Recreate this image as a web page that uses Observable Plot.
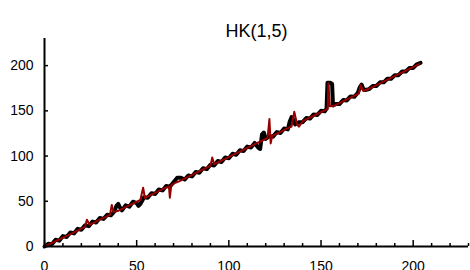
<!DOCTYPE html>
<html><head><meta charset="utf-8">
<script src="https://cdn.jsdelivr.net/npm/d3@7"></script>
<script src="https://cdn.jsdelivr.net/npm/@observablehq/plot@0.6"></script>
<style>html,body{margin:0;padding:0;background:#fff;}</style>
</head><body><div id="chart"></div>
<script>
const title = "HK(1,5)";
const xTicks = [0, 50, 100, 150, 200];
const xMinorTicks = [10, 20, 30, 40, 60, 70, 80, 90, 110, 120, 130, 140, 160, 170, 180, 190, 210, 220, 230];
const yTicks = [0, 50, 100, 150, 200];

const blackX = [0,2,4,6,8,10,12,14,16,18,20,22,24,26,28,30,32,34,36,38,39,40,41,42,44,46,48,50,51,52,54,56,58,60,62,64,66,68,70,72,74,76,78,80,82,84,86,88,90,92,94,96,98,100,102,104,106,108,110,112,114,116,117,118,119,120,122,124,126,128,130,132,133,134,135,136,138,140,142,144,146,148,150,152,153,153.5,155,156,156.5,158,160,162,164,166,168,170,171,172,173,174,176,178,180,182,184,186,188,190,192,194,196,198,200,202,204];
const blackY = [0,3,2.5,7.5,6.5,11.5,10.5,15.5,14.5,19.5,18.5,23.5,22.5,27.5,26.5,31.5,30.5,35,34.5,39,45,47,43,40,45.5,44,49.5,48,45,47,54.5,54,59,58,63,62,67,66,71,76,76,74,78.5,77.5,82.5,81.5,86.5,85.5,90.5,89.5,94.5,93.5,98.5,97.5,102.5,101.5,106.5,105.5,110.5,109.5,114.5,109,108,124,126,119,122,121.5,126.5,125.5,130.5,129.5,138,143,140,135,137.5,137.5,142,141.5,146,145.5,150,149.5,152.5,181,181,180,156,157.5,157.5,162,161.5,166,165.5,170,176,179,174,173,174,177.5,177.5,181.5,181.5,185.5,185.5,189.5,189.5,193.5,193.5,197.5,197.5,201.5,203];

const redX = [0,5,10,15,20,22,23,24.5,27,30,33,35.5,36.5,37.5,40,43,46,49,52,53.5,54.5,57,60,63,66,67.5,68,68.8,71,73,76,79,82,85,88,90,91,92,95,98,101,104,107,110,113,116,119,121,122,122.7,123.5,126,129,132,134,135.5,137,138,140,143,146,149,152,153.6,154,154.8,157,160,163,166,169,170.5,171.5,173,176,179,182,185,188,191,194,197,200,203.5];
const redY = [0,4.8,9.9,14.6,19.8,21.7,29.5,24,26.5,29.7,32.4,35,46,38,39.5,42.5,45.5,48.5,51.4,65,53.5,56.5,59.4,62.3,65.4,66.5,54,67.8,70.5,72,75,78,81.2,84.2,87.2,89,98.5,91,94,97,100,103,106,109,112,115,118,120,141,114,122,124.8,127.8,130.8,132.7,149,135,132.5,138.5,141.7,144.6,147.6,150.6,152,180.5,155,155.6,158.6,161.6,164.6,167.6,169,178.5,172,174.4,177.4,180.4,183.4,186.4,189.4,192.4,195.4,198.4,202];

const black = blackX.map((x, i) => ({x, y: blackY[i]}));
const red = redX.map((x, i) => ({x, y: redY[i]}));

const chart = Plot.plot({
  width: 470,
  height: 270,
  marginLeft: 44,
  marginRight: 2,
  marginTop: 38,
  marginBottom: 24,
  style: {fontFamily: "Liberation Sans, Arial, sans-serif", fontSize: "14px", color: "#000", background: "#fff"},
  x: {domain: [0, 230], label: null},
  y: {domain: [0, 230], label: null},
  marks: [
    Plot.axisX(xTicks, {tickSize: 0, tickPadding: 15, fontSize: 14, label: null}),
    Plot.axisY(yTicks, {tickSize: 0, tickPadding: 11, fontSize: 14, label: null}),
    Plot.line(black, {x: "x", y: "y", stroke: "#000", strokeWidth: 4}),
    Plot.line(red, {x: "x", y: "y", stroke: "#960000", strokeWidth: 2}),
    Plot.ruleX([0], {stroke: "#000", strokeWidth: 2}),
    Plot.ruleY([0], {stroke: "#000", strokeWidth: 2}),
    Plot.ruleX(xTicks, {x: d => d, y1: 0, y2: 0, insetBottom: 6, stroke: "#000", strokeWidth: 1.5}),
    Plot.ruleX(xMinorTicks, {x: d => d, y1: 0, y2: 0, insetBottom: 3, stroke: "#000", strokeWidth: 1.5}),
    Plot.ruleY(yTicks, {y: d => d, x1: 0, x2: 0, insetRight: -4, stroke: "#000", strokeWidth: 1.5}),
    Plot.text([title], {text: d => d, frameAnchor: "top", dy: -14, fontSize: 18, fill: "#000"})
  ]
});
document.getElementById("chart").appendChild(chart);
</script>
</body></html>
